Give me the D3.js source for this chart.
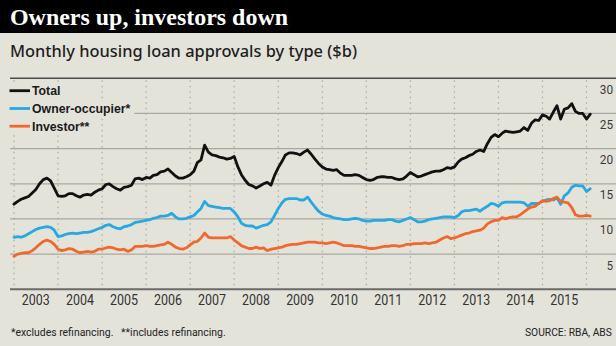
<!DOCTYPE html>
<html><head><meta charset="utf-8">
<script src="https://cdn.jsdelivr.net/npm/d3@7"></script>
<style>html,body{margin:0;padding:0;background:#e4e3da;}svg{display:block}</style>
</head><body><svg id="c" width="616" height="346"></svg>
<script>
// ---- data (monthly, $b, starting Jan 2003) ----
const startYear = 2003;
const total = [
 12.1,12.5,12.8,13.0,13.2,13.7,14.2,15.0,15.6,15.8,15.4,14.4,
 13.3,13.2,13.3,13.6,13.6,13.3,13.1,13.4,13.5,13.4,13.8,14.1,
 14.3,14.9,15.0,14.6,14.3,14.1,14.5,14.6,14.8,15.7,15.8,15.6,
 15.9,15.8,16.2,16.3,16.7,16.8,17.1,16.6,16.1,15.8,15.8,16.0,
 16.3,16.8,18.0,18.4,20.5,19.5,19.1,19.0,18.8,18.7,18.5,18.6,
 18.9,17.4,16.3,15.5,14.9,14.7,14.4,14.7,15.0,15.2,14.8,16.2,
 17.3,18.2,19.1,19.4,19.4,19.3,19.1,19.5,19.8,19.2,18.5,17.9,
 17.4,17.1,17.0,16.9,17.0,16.5,16.2,16.2,16.2,16.3,16.2,15.9,
 15.6,15.5,15.6,15.9,16.0,16.0,15.9,15.9,15.7,15.6,15.7,16.1,
 16.6,16.3,16.0,16.1,16.3,16.5,16.7,16.8,16.8,17.0,17.3,17.2,
 17.4,18.1,18.5,18.7,19.0,19.2,19.6,19.8,19.6,20.7,21.6,22.0,
 21.7,22.2,22.5,22.4,22.3,22.4,22.5,23.0,22.6,23.6,24.1,24.0,
 24.8,24.6,24.2,25.2,26.1,24.2,25.6,25.8,26.4,25.3,25.0,25.0,
 24.2,24.9
];
const owner = [
 7.4,7.5,7.4,7.6,7.9,8.2,8.5,8.7,8.8,8.9,8.8,8.4,
 7.5,7.6,7.8,7.9,8.0,7.9,8.0,8.1,8.1,8.2,8.4,8.6,
 8.8,9.1,9.2,8.9,8.7,8.6,8.9,9.0,9.2,9.5,9.6,9.7,
 9.8,9.9,10.1,10.2,10.4,10.4,10.5,10.8,10.3,10.0,10.0,10.1,
 10.3,10.5,11.0,11.5,12.5,11.9,11.8,11.7,11.6,11.5,11.5,11.5,
 11.0,10.3,9.4,9.1,9.0,9.0,8.7,8.9,9.1,9.2,9.6,10.5,
 11.5,12.3,12.8,12.9,12.9,12.9,12.7,12.7,13.1,12.4,11.7,11.1,
 10.7,10.5,10.4,10.2,10.1,10.0,9.9,9.9,10.0,10.1,10.0,9.8,
 9.7,9.7,9.8,9.8,9.8,9.8,9.9,9.9,9.7,9.6,9.8,10.0,
 10.2,9.9,9.6,9.6,9.7,9.9,10.0,10.1,10.2,10.3,10.3,10.3,
 10.2,10.5,11.0,11.2,11.2,11.3,11.4,11.1,11.5,11.8,12.2,12.1,
 11.8,12.3,12.4,12.4,12.4,12.4,12.4,12.3,11.8,12.2,12.2,12.2,
 12.5,12.7,12.8,12.7,13.0,12.1,13.3,13.7,14.5,14.8,14.7,14.7,
 13.9,14.3
];
const investor = [
 4.7,5.0,5.1,5.2,5.2,5.5,5.9,6.4,6.8,7.0,6.8,6.4,
 5.7,5.5,5.6,5.8,5.7,5.4,5.2,5.3,5.4,5.3,5.4,5.7,
 5.7,5.9,6.0,5.9,5.7,5.6,5.7,5.4,5.6,6.1,6.1,6.1,
 6.2,6.1,6.1,6.2,6.3,6.4,6.7,6.4,6.0,5.8,5.7,5.9,
 6.3,6.7,6.8,7.3,8.0,7.4,7.3,7.3,7.3,7.3,7.3,7.5,
 7.0,6.6,6.2,6.0,5.8,5.8,6.0,5.8,5.9,5.5,5.7,5.8,
 5.9,6.0,6.2,6.3,6.4,6.4,6.5,6.6,6.7,6.7,6.7,6.6,
 6.6,6.5,6.6,6.7,6.6,6.4,6.2,6.2,6.2,6.1,6.1,6.0,
 5.9,5.8,5.8,5.9,6.0,6.1,6.1,6.2,6.2,6.1,6.2,6.4,
 6.4,6.5,6.5,6.5,6.6,6.5,6.6,6.7,7.0,7.3,7.5,7.2,
 7.3,7.5,7.7,7.9,8.0,8.2,8.3,8.4,8.7,9.3,9.6,9.8,
 9.8,10.2,10.0,10.2,10.3,10.3,10.6,11.0,11.4,11.7,11.8,12.2,
 12.6,12.5,12.6,12.9,13.1,12.5,12.4,12.3,11.6,10.6,10.4,10.4,
 10.5,10.4
];
const yearLabels = [2003,2004,2005,2006,2007,2008,2009,2010,2011,2012,2013,2014,2015];
const gridYears = [2003,2004,2005,2006,2007,2008,2009,2010,2011,2012,2013,2014,2015,2016];
const yTicks = [5,10,15,20,25,30];
const seriesNames = ["Total","Owner-occupier*","Investor**"];
const seriesColors = ["#111111","#27a8e0","#f0682c"];
const titleText = "Owners up, investors down";
const subtitleText = "Monthly housing loan approvals by type ($b)";
const noteText = "*excludes refinancing.   **includes refinancing.";
const sourceText = "SOURCE: RBA, ABS";

// ---- drawing ----
const bg = "#e4e3da";
const svg = d3.select("#c");
const x = d3.scaleTime().domain([new Date(2003,0,1), new Date(2016,0,1)]).range([14, 586.5]);
const y = d3.scaleLinear().domain([0,30]).range([289.3, 78.3]);

svg.append("rect").attr("width",616).attr("height",346).attr("fill",bg);
svg.append("rect").attr("width",616).attr("height",33).attr("fill","#000");
svg.append("text").text(titleText).attr("x",10).attr("y",25)
  .attr("font-family","'Liberation Serif','DejaVu Serif',serif").attr("font-weight","bold")
  .attr("font-size",24).attr("fill","#fff")
  .attr("textLength",278).attr("lengthAdjust","spacingAndGlyphs");
svg.append("text").text(subtitleText).attr("x",10).attr("y",57)
  .attr("font-family","'Noto Sans','Open Sans',sans-serif").attr("font-weight",500)
  .attr("font-size",16.5).attr("fill","#1e1e1e")
  .attr("textLength",347).attr("lengthAdjust","spacingAndGlyphs");

// horizontal grid
const gH = svg.append("g");
gH.selectAll("line").data(yTicks).join("line")
  .attr("x1",10).attr("x2",616)
  .attr("y1",d=>y(d)).attr("y2",d=>y(d))
  .attr("stroke",d=>d===30?"#4d4d4d":"#a8a8a2")
  .attr("stroke-width",d=>d===30?1.6:1.3);

// vertical dotted grid
svg.append("g").selectAll("line").data(gridYears).join("line")
  .attr("x1",d=>x(new Date(d,0,1))).attr("x2",d=>x(new Date(d,0,1)))
  .attr("y1",y(30)+2).attr("y2",y(0)-1)
  .attr("stroke","#a9a9a2").attr("stroke-width",1.2)
  .attr("stroke-dasharray","1.5,4");

// y labels
svg.append("g").selectAll("text").data(yTicks).join("text")
  .text(d=>d).attr("x",d=>String(d).length>1?599.8:606.8).attr("y",d=>y(d)+15.5)
  .attr("font-family","Roboto,'Liberation Sans',sans-serif").attr("font-size",13.5)
  .attr("fill","#3a3a3a")
  .attr("textLength",d=>String(d).length>1?13.3:6.3).attr("lengthAdjust","spacingAndGlyphs");

// bottom axis
svg.append("line").attr("x1",10).attr("x2",616).attr("y1",y(0)).attr("y2",y(0))
  .attr("stroke","#6a6a6a").attr("stroke-width",2);

// year labels
svg.append("g").selectAll("text").data(yearLabels).join("text")
  .text(d=>d).attr("x",d=>x(new Date(d,6,1))).attr("y",305.3)
  .attr("text-anchor","middle")
  .attr("font-family","Roboto,'Liberation Sans',sans-serif").attr("font-size",13.8)
  .attr("fill","#333")
  .attr("textLength",28).attr("lengthAdjust","spacingAndGlyphs");

// legend
const legY = [95, 112.8, 130.5];
const leg = svg.append("g");
seriesNames.forEach((name,i)=>{
  const g = leg.append("g");
  const r = g.append("rect").attr("fill",bg);
  g.append("line").attr("x1",9.5).attr("x2",30).attr("y1",legY[i]-4.3).attr("y2",legY[i]-4.3)
    .attr("stroke",seriesColors[i]).attr("stroke-width",2.8);
  const t = g.append("text").text(name).attr("x",32).attr("y",legY[i])
    .attr("font-family","'Liberation Sans',Arial,sans-serif").attr("font-weight","bold")
    .attr("font-size",12.3).attr("fill","#1a1a1a");
  const w = t.node().getComputedTextLength();
  r.attr("x",8).attr("y",legY[i]-12).attr("width",w+28).attr("height",16);
});

// lines
const mk = (arr)=>arr.map((v,i)=>({d:new Date(startYear,i,1), v}));
const line = d3.line().x(p=>x(p.d)).y(p=>y(p.v)).curve(d3.curveLinear);
[[owner,1],[investor,2],[total,0]].forEach(([arr,ci])=>{
  svg.append("path").datum(mk(arr)).attr("d",line)
    .attr("fill","none").attr("stroke",seriesColors[ci]).attr("stroke-width",2.8)
    .attr("stroke-linejoin","round").attr("stroke-linecap","round");
});

// footer (horizontally condensed via transform so the box matches the drawn width)
function condensed(txt, left, base, width){
  const t = svg.append("text").text(txt)
    .attr("font-family","Roboto,'Liberation Sans',sans-serif").attr("font-size",11)
    .attr("fill","#222").style("white-space","pre");
  const nat = t.node().getComputedTextLength();
  t.attr("transform",`translate(${left},${base}) scale(${width/nat},1)`);
}
condensed(noteText, 11, 336, 215);
condensed(sourceText, 525, 336, 87);
</script></body></html>
